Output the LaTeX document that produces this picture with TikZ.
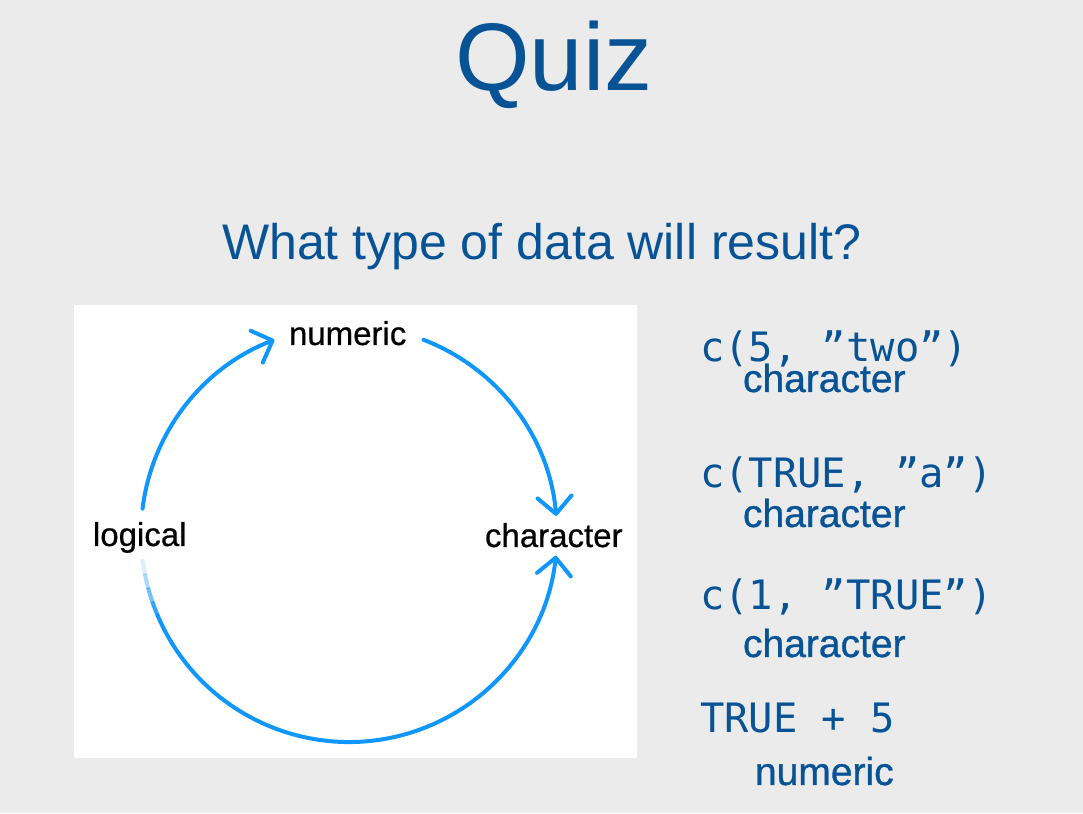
\documentclass[tikz,border=0pt]{standalone}
\usepackage{fontspec}
\setmainfont{Liberation Sans}
\newfontfamily\codefont{DejaVu Sans Mono}
\newfontfamily\medfont[FakeBold=0.9]{Liberation Sans}
\newfontfamily\labfont[FakeBold=0.6]{Liberation Sans}
\usetikzlibrary{arrows.meta}
\definecolor{bg}{RGB}{235,235,235}
\definecolor{slideblue}{RGB}{8,83,150}
\definecolor{arcblue}{RGB}{16,150,255}
\tikzset{
  txt/.style={anchor=base west,inner sep=0pt,outer sep=0pt},
  code/.style={txt,text=slideblue,font=\codefont\fontsize{40.5}{40}\selectfont},
  answer/.style={txt,text=slideblue,font=\medfont\fontsize{39}{39}\selectfont},
  lab/.style={txt,text=black,font=\labfont\fontsize{33}{33}\selectfont},
  arc/.style={draw=arcblue,line width=4pt,line cap=round},
  tip/.style={-{Straight Barb[length=17pt,width=34pt,line width=4pt,round]}}
}
\begin{document}
\begin{tikzpicture}[x=1pt,y=1pt]
\useasboundingbox (0,0) rectangle (1083,813);
\fill[bg] (0,0) rectangle (1083,813);
% title
\node[txt,text=slideblue,font=\fontsize{96}{96}\selectfont] (title) at (455,722) {Quiz};
\node[txt,text=slideblue,font=\fontsize{50}{50}\selectfont] (sub) at (222,553) {What type of data will result?};
% white panel
\fill[white] (74,55) rectangle (637,508);
% labels
\node[lab] (numeric) at (289,468) {numeric};
\node[lab] (logical) at (93,267) {logical};
\node[lab] (character) at (485,266) {character};
% circle arcs
\coordinate (ctr) at (349,279);
\path (ctr) ++(173:208) coordinate (a1s);
\path (ctr) ++(69:208) coordinate (a2s);
\path (ctr) ++(203:208) coordinate (a3s);
\draw[arc,tip] (a1s) arc[start angle=173,end angle=111,radius=208];
\draw[arc,tip] (a2s) arc[start angle=69,end angle=5,radius=208];
\draw[arc,tip] (a3s) arc[start angle=203,end angle=354,radius=208];
% faded start of the lower arc
\foreach \a/\o in {187/0.15,191/0.35,195/0.6,199/0.85}{
  \draw[arc,line cap=butt,opacity=\o] (ctr) ++(\a:208) arc[start angle=\a,end angle=\a+4.3,radius=208];
}
% right column
\node[code] (q1) at (700,451) {c(5, ”two”)};
\node[answer] (r1) at (743,421) {character};
\node[code] (q2) at (700,325) {c(TRUE, ”a”)};
\node[answer] (r2) at (743,286) {character};
\node[code] (q3) at (700,203) {c(1, ”TRUE”)};
\node[answer] (r3) at (743,156) {character};
\node[code] (q4) at (700,80) {TRUE + 5};
\node[answer] (r4) at (755,28) {numeric};
\end{tikzpicture}
\end{document}
